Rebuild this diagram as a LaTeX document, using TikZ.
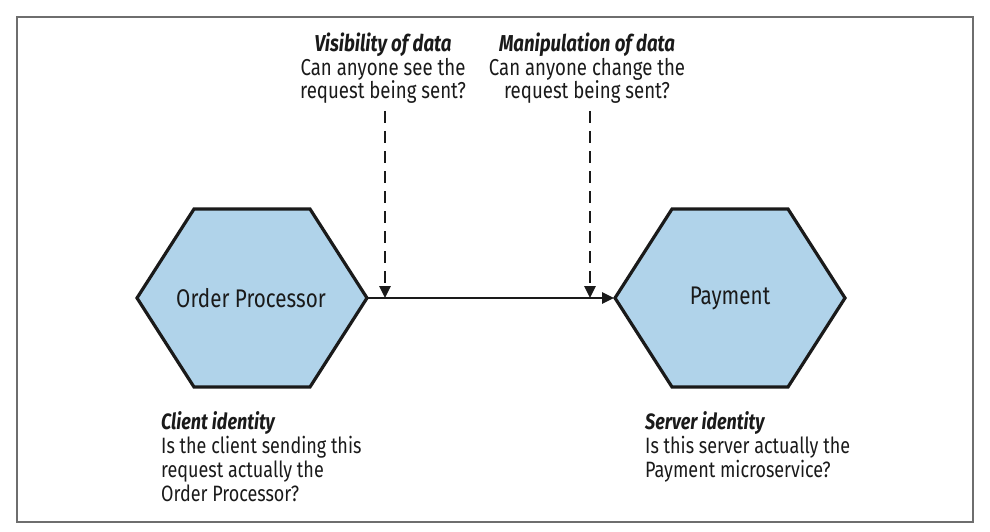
\documentclass[tikz,border=0pt]{standalone}
\usepackage{fontspec}
\setmainfont[FakeStretch=0.81]{Fira Sans}
\usetikzlibrary{arrows.meta}
\definecolor{hexfill}{HTML}{B0D3EA}
\definecolor{ink}{HTML}{1A1A1A}
\definecolor{framec}{HTML}{6E6E6E}
\begin{document}
\begin{tikzpicture}[x=1pt,y=-1pt,
  hexa/.style={draw=ink,fill=hexfill,line width=3.2pt,line join=miter},
  lbl/.style={inner sep=0pt,text=ink,font=\fontsize{25.5}{26}\selectfont},
  note/.style={inner sep=0pt,text=ink,font=\fontsize{23}{23.5}\selectfont},
  bnote/.style={inner sep=0pt,text=ink,font=\fontsize{22.2}{24}\selectfont},
  flow/.style={draw=ink,line width=2.6pt,-{Triangle[length=12pt,width=11pt]}},
  probe/.style={draw=ink,line width=2.6pt,dash pattern=on 12pt off 8pt,-{Triangle[length=12pt,width=11pt]}}]
\useasboundingbox (0,0) rectangle (990,532);
\draw[framec,line width=1.5pt] (17,17) rectangle (973,522);
% hexagons
\draw[hexa] (137,298) -- (194,209) -- (310,209) -- (367,298) -- (310,387) -- (194,387) -- cycle;
\draw[hexa] (615,298) -- (672,209) -- (788,209) -- (845,298) -- (788,387) -- (672,387) -- cycle;
\node[lbl] (op) at (251,298) {Order Processor};
\node[lbl] (pay) at (730,298) {Payment\vphantom{O}};
\coordinate (opR) at (368,298);
\coordinate (payL) at (614,298);
\coordinate (m1) at (385,298);
\coordinate (m2) at (590,298);
\coordinate (t1) at (385,111);
\coordinate (t2) at (590,111);
\draw[flow] (opR) -- (payL);
\draw[probe] (t1) -- (m1);
\draw[probe] (t2) -- (m2);
% notes
\node[note,align=center,anchor=north] (vis) at (383,33) {\textbf{\textit{Visibility of data}}\\Can anyone see the\\request being sent?};
\node[note,align=center,anchor=north] (man) at (587,33) {\textbf{\textit{Manipulation of data}}\\Can anyone change the\\request being sent?};
\node[bnote,align=left,anchor=north west] (cli) at (161,411) {\textbf{\textit{Client identity}}\\Is the client sending this\\request actually the\\Order Processor?};
\node[bnote,align=left,anchor=north west] (srv) at (645,411) {\textbf{\textit{Server identity}}\\Is this server actually the\\Payment microservice?};
\end{tikzpicture}
\end{document}
